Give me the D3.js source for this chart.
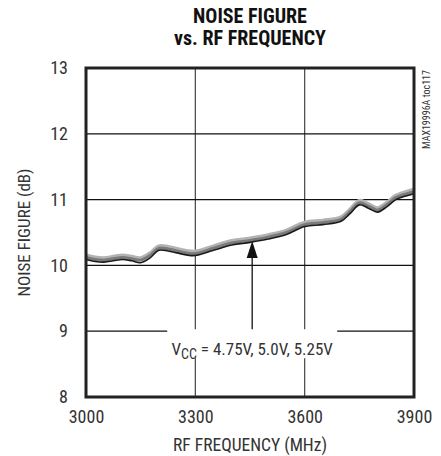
<!DOCTYPE html>
<html><head><meta charset="utf-8">
<script src="https://cdn.jsdelivr.net/npm/d3@7"></script>
<style>
html,body{margin:0;padding:0;background:#fff;}
svg{display:block;}
text{font-family:"Liberation Sans Narrow","Arial Narrow","Roboto Condensed","Liberation Sans",sans-serif;}
</style></head>
<body><svg id="c" width="441" height="456"></svg>
<script>
const freqs = [3000,3025,3050,3075,3100,3125,3150,3175,3200,3225,3250,3275,3300,3350,3400,3450,3500,3550,3600,3650,3700,3725,3750,3775,3800,3825,3850,3875,3900];
const nf525 = [10.15,10.12,10.11,10.13,10.15,10.13,10.11,10.18,10.29,10.28,10.25,10.22,10.21,10.29,10.37,10.41,10.46,10.53,10.65,10.68,10.73,10.85,10.98,10.93,10.87,10.95,11.06,11.11,11.15];
const nf500 = [10.12,10.09,10.08,10.10,10.12,10.10,10.08,10.15,10.26,10.25,10.22,10.19,10.18,10.26,10.34,10.38,10.43,10.50,10.62,10.65,10.70,10.82,10.95,10.90,10.84,10.92,11.03,11.08,11.12];
const nf475 = [10.09,10.06,10.05,10.07,10.09,10.07,10.04,10.11,10.23,10.22,10.19,10.16,10.15,10.23,10.31,10.35,10.40,10.47,10.59,10.62,10.67,10.79,10.92,10.87,10.81,10.89,11.00,11.05,11.09];
const xTicks = [3000,3300,3600,3900];
const yTicks = [8,9,10,11,12,13];
const titleLines = ["NOISE FIGURE","vs. RF FREQUENCY"];
const xLabel = "RF FREQUENCY (MHz)";
const yLabel = "NOISE FIGURE (dB)";
const tocLabel = "MAX19996A toc117";
const arrowFreq = 3456, arrowTip = 10.37, arrowBase = 9.03, noteNF = 8.64;

const svg = d3.select("#c");
const L=86, T=68, W=328, H=329;
const x = d3.scaleLinear().domain([3000,3900]).range([L,L+W]);
const y = d3.scaleLinear().domain([8,13]).range([T+H,T]);

// gridlines
const g = svg.append("g");
g.selectAll(".vg").data(xTicks.slice(1,-1)).join("line")
  .attr("x1",d=>x(d)).attr("x2",d=>x(d)).attr("y1",T).attr("y2",T+H)
  .attr("stroke","#444").attr("stroke-width",1.2);
g.selectAll(".hg").data(yTicks.slice(1,-1)).join("line")
  .attr("x1",L).attr("x2",L+W).attr("y1",d=>y(d)).attr("y2",d=>y(d))
  .attr("stroke","#111").attr("stroke-width",1.2);

// note box (white background interrupts gridlines)
const nx = x(arrowFreq);
svg.append("rect").attr("x",nx-85).attr("y",y(arrowBase)).attr("width",170).attr("height",29).attr("fill","#fff");

// series
const line = d3.line().x((d,i)=>x(freqs[i])).y(d=>y(d)).curve(d3.curveCatmullRom.alpha(0.5));
svg.append("path").attr("d",line(nf525)).attr("fill","none").attr("stroke","#b3b3b3").attr("stroke-width",4);
svg.append("path").attr("d",line(nf500)).attr("fill","none").attr("stroke","#7a7a7a").attr("stroke-width",3);
svg.append("path").attr("d",line(nf475)).attr("fill","none").attr("stroke","#1a1a1a").attr("stroke-width",1.6);

// frame
svg.append("rect").attr("x",L).attr("y",T).attr("width",W).attr("height",H)
  .attr("fill","none").attr("stroke","#222").attr("stroke-width",3);

// axes ticks labels
const xa = d3.axisBottom(x).tickValues(xTicks).tickSize(0).tickPadding(13).tickFormat(d3.format("d"));
const xg = svg.append("g").attr("transform",`translate(0,${T+H})`).call(xa);
xg.select(".domain").remove();
xg.selectAll("text").attr("font-size",18).attr("fill","#333").style("font-family",null);
const ya = d3.axisLeft(y).tickValues(yTicks).tickSize(0).tickPadding(18).tickFormat(d3.format("d"));
const yg = svg.append("g").attr("transform",`translate(${L},0)`).call(ya);
yg.select(".domain").remove();
yg.selectAll("text").attr("font-size",18).attr("fill","#333").style("font-family",null);

// axis titles
svg.append("text").attr("x",x(3450)).attr("y",451).attr("text-anchor","middle")
  .attr("font-size",17.5).attr("fill","#333").text(xLabel);
svg.append("text").attr("transform",`translate(30,${y(10.5)}) rotate(-90)`).attr("text-anchor","middle")
  .attr("font-size",17).attr("fill","#333").text(yLabel);

// title
svg.selectAll(".tt").data(titleLines).join("text")
  .attr("x",x(3450)).attr("y",(d,i)=>23+i*22).attr("text-anchor","middle")
  .attr("font-size",20).attr("font-weight","bold").attr("fill","#111").text(d=>d);

// toc label
svg.append("text").attr("transform",`translate(430,${T+2}) rotate(-90)`).attr("text-anchor","end")
  .attr("font-size",10).attr("fill","#333").text(tocLabel);

// arrow
svg.append("line").attr("x1",nx).attr("x2",nx).attr("y1",y(arrowBase)).attr("y2",y(arrowTip)+10)
  .attr("stroke","#111").attr("stroke-width",1.3);
const tipY = y(arrowTip);
svg.append("path").attr("d",`M${nx},${tipY} L${nx-5.5},${tipY+17} L${nx+5.5},${tipY+17} Z`).attr("fill","#111");

// note text
const nt = svg.append("text").attr("x",nx).attr("y",y(noteNF)).attr("text-anchor","middle")
  .attr("font-size",17).attr("fill","#333");
nt.append("tspan").text("V");
nt.append("tspan").attr("dy",4).attr("font-size",14).text("CC");
nt.append("tspan").attr("dy",-4).text(" = 4.75V, 5.0V, 5.25V");
</script></body></html>
